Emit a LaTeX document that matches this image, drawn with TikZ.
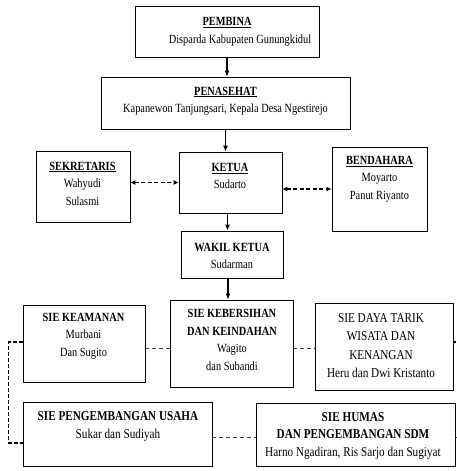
\documentclass[tikz,border=0pt]{standalone}
\usepackage{fontspec}
\setmainfont{Liberation Serif}[FakeStretch=0.83]
\usetikzlibrary{arrows.meta,calc}
\begin{document}
\begin{tikzpicture}[x=1pt,y=-1pt,
  box/.style={draw=black,line width=0.8pt,rectangle,inner sep=0pt},
  txt/.style={align=center,inner sep=0pt,font=\fontsize{12.5}{17.5}\selectfont},
  arr/.style={line width=1.1pt,-{Latex[length=6pt,width=5pt]}},
  darr/.style={line width=1.3pt,dashed,dash pattern=on 4pt off 2.5pt,{Latex[length=5pt,width=5pt]}-{Latex[length=5pt,width=5pt]}},
  sdash/.style={line width=0.6pt,draw=black!75,dash pattern=on 4pt off 3pt},
  ldash/.style={line width=1.2pt,dash pattern=on 4pt off 2pt}]
\useasboundingbox (0,0) rectangle (456,471);
\fill[white] (0,0) rectangle (456,471);
% boxes
\node[box,minimum width=184pt,minimum height=51pt] (pembina) at (227,31.5) {};
\node[box,minimum width=249pt,minimum height=52pt] (penasehat) at (225.5,103) {};
\node[box,minimum width=94pt,minimum height=71pt] (sekretaris) at (83,186.5) {};
\node[box,minimum width=103pt,minimum height=61pt] (ketua) at (230.5,182.5) {};
\node[box,minimum width=95pt,minimum height=84pt] (bendahara) at (379.5,189) {};
\node[box,minimum width=102pt,minimum height=47pt] (wakil) at (232,254.5) {};
\node[box,minimum width=122pt,minimum height=77pt] (keamanan) at (84,343.5) {};
\node[box,minimum width=123pt,minimum height=87pt] (kebersihan) at (231.5,343.5) {};
\node[box,minimum width=138pt,minimum height=87pt] (daya) at (384,346.5) {};
\node[box,minimum width=189pt,minimum height=64pt] (usaha) at (117.5,434) {};
\node[box,minimum width=199pt,minimum height=63pt] (humas) at (355.5,434.5) {};
% texts
\node[txt] (tpembina) at (227,31.5) {\textbf{\underline{PEMBINA}}\\\hspace*{26pt}Disparda Kabupaten Gunungkidul};
\node[txt] (tpenasehat) at (225.5,101) {\textbf{\underline{PENASEHAT}}\\Kapanewon Tanjungsari, Kepala Desa Ngestirejo};
\node[txt] (tsekretaris) at (82.5,183.5) {\textbf{\underline{SEKRETARIS}}\\Wahyudi\\Sulasmi};
\node[txt] (tketua) at (230,176) {\textbf{\underline{KETUA}}\\Sudarto};
\node[txt] (tbendahara) at (379.5,179) {\textbf{\underline{BENDAHARA}}\\Moyarto\\Panut Riyanto};
\node[txt] (twakil) at (232,256) {\textbf{WAKIL KETUA}\\Sudarman};
\node[txt] (tkeamanan) at (83.5,336) {\textbf{SIE KEAMANAN}\\Murbani\\Dan Sugito};
\node[txt] (tkebersihan) at (232,340) {\textbf{SIE KEBERSIHAN}\\\textbf{DAN KEINDAHAN}\\Wagito\\dan Subandi};
\node[txt,font=\fontsize{13.5}{18.3}\selectfont] (tdaya) at (381,345.5) {SIE DAYA TARIK\\WISATA DAN\\KENANGAN\\Heru dan Dwi Kristanto};
\node[txt,font=\fontsize{13.5}{17.5}\selectfont] (tusaha) at (118,426.5) {\textbf{SIE PENGEMBANGAN USAHA}\\Sukar dan Sudiyah};
\node[txt,font=\fontsize{13.5}{17.5}\selectfont] (thumas) at (353,435.5) {\textbf{SIE HUMAS}\\\textbf{DAN PENGEMBANGAN SDM}\\Harno Ngadiran, Ris Sarjo dan Sugiyat};
% arrows
\draw[arr] (pembina.south) -- (pembina.south |- penasehat.north);
\draw[arr] (penasehat.south) -- (penasehat.south |- ketua.north);
\draw[arr] ([xshift=-3pt]ketua.south) -- ([xshift=-3pt]ketua.south |- wakil.north);
\draw[arr] ([xshift=-4pt]wakil.south) -- ([xshift=-4pt]wakil.south |- kebersihan.north);
\draw[darr] (sekretaris.east |- ketua.west) -- (ketua.west);
\draw[darr] (ketua.east |- bendahara.west) -- (bendahara.west);
% dashed links
\draw[sdash] ([yshift=-4.5pt]keamanan.east) -- ([yshift=-4.5pt]keamanan.east -| kebersihan.west);
\draw[sdash] ([yshift=-4.5pt]kebersihan.east) -- ([yshift=-4.5pt]kebersihan.east -| daya.west);
\draw[ldash] ([yshift=1.5pt]keamanan.west) -- ++(-14,0) |- ([yshift=-9pt]usaha.west);
\draw[sdash] ([yshift=-3pt]usaha.east) -- ([yshift=-3pt]usaha.east -| humas.west);
\coordinate (rstub) at (456,342);
\coordinate (hstub) at (458,437);
\draw[ldash] ([yshift=4.5pt]daya.east) -- (rstub);
\draw[sdash] ([yshift=-2.5pt]humas.east) -- (hstub);
\end{tikzpicture}
\end{document}
